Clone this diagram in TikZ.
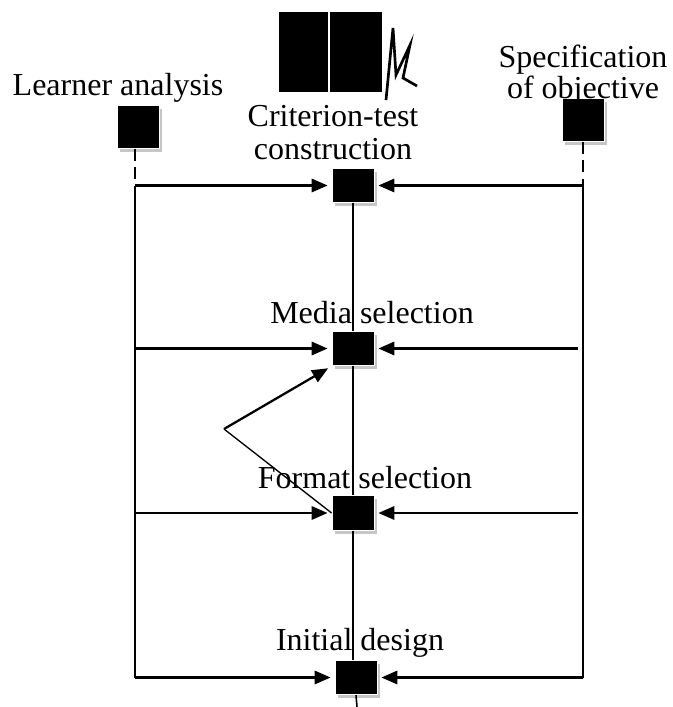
\documentclass[tikz,border=0pt]{standalone}
\usepackage{fontspec}
\setmainfont{Liberation Serif}
\usetikzlibrary{arrows.meta,shadows,positioning}
\tikzset{stepbox/.style = {rectangle, fill=black, draw=white, line width=0.6pt, minimum width=31.5pt, minimum height=26pt, inner sep=0pt, drop shadow={shadow xshift=2.5pt, shadow yshift=-2.5pt, fill=gray!45, opacity=1}}}
\tikzset{topbox/.style  = {stepbox, minimum height=32pt}}
\tikzset{lbl/.style     = {font=\fontsize{24}{24.75}\selectfont, align=center, inner sep=0pt, anchor=base}}
\tikzset{arrow/.style   = {line width=1.7pt, -{Triangle[length=12pt,width=10pt]}, shorten >=3pt}}

\begin{document}
\begin{tikzpicture}[x=0.75pt,y=-0.75pt]
		\useasboundingbox (0,0) rectangle (672,707);

		% scan marks at the top
		\fill[black] (279,12) rectangle (328,92);
		\fill[black] (330,12) rectangle (382,92);
		\draw[line width=2pt] (386,100) -- (393,28) -- (396,75) -- (410,45) -- (403,78) -- (417,86);

		% the blocks
		\node[topbox] (learner) at (138,127) {};
		\node[topbox] (spec) at (583,120) {};
		\node[stepbox] (crit) at (353,185.5) {};
		\node[stepbox] (media) at (353,348.5) {};
		\node[stepbox] (format) at (353,513) {};
		\node[stepbox] (initial) at (356,677.5) {};

		% texts
		\node[lbl] (learnerlbl) at (118,95) {Learner analysis};
		\node[lbl, font=\fontsize{24}{21.75}\selectfont] (speclbl) at (583,98) {Specification\\of objective};
		\node[lbl] (critlbl) at (333,159) {Criterion-test\\construction};
		\node[lbl] (medialbl) at (372,323) {Media selection};
		\node[lbl] (formatlbl) at (365,488) {Format selection};
		\node[lbl] (initiallbl) at (360,650) {Initial design};

		% side lines
		\coordinate (lt) at (135,185.5);
		\coordinate (lb) at (135,677.5);
		\coordinate (rt) at (583,185.5);
		\coordinate (rb) at (583,677.5);
		\coordinate (rm) at (578,348.5);
		\coordinate (rf) at (578,513);
		\coordinate (fork) at (224,429);
		\coordinate (out) at (357,707);

		\draw[line width=1.5pt, dash pattern=on 9pt off 5pt] (learner.south -| lt) -- (lt);
		\draw[line width=1.5pt, dash pattern=on 9pt off 5pt] (spec.south -| rt) -- (rt);
		\draw[line width=1.3pt] (lt) -- (lb);
		\draw[line width=1.3pt] (rt) -- (rb);

		% center line
		\draw[line width=1pt] (crit.south) -- (media.north);
		\draw[line width=1pt] (media.south) -- (format.north);
		\draw[line width=1pt] (format.south) -- (format.south |- initial.north);
		\draw[line width=1.2pt] (initial.south) -- (out);

		% arrows
		\draw[arrow] (lt) -- (crit);
		\draw[arrow] (rt) -- (crit);
		\draw[arrow] (lt |- media) -- (media);
		\draw[arrow] (rm) -- (media);
		\draw[arrow] (lt |- format) -- (format);
		\draw[arrow] (rf) -- (format);
		\draw[arrow] (lb) -- (initial);
		\draw[arrow] (rb) -- (initial);

		\draw[arrow] (fork) -- (media.south west);
		\draw[line width=1pt] (fork) -- (format.west);
	\end{tikzpicture}
\end{document}
